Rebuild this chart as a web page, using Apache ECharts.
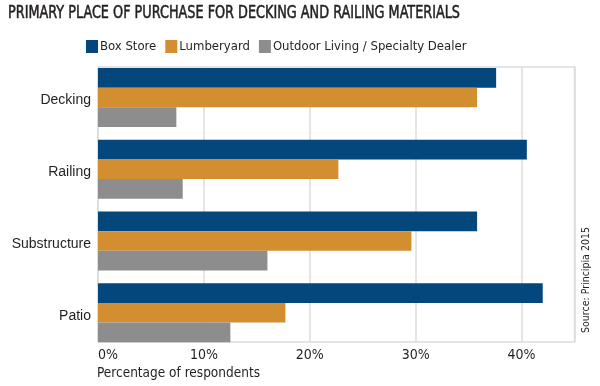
<!DOCTYPE html>
<html>
<head>
<meta charset="utf-8">
<script src="https://cdn.jsdelivr.net/npm/echarts@6/dist/echarts.min.js"></script>
<style>html,body{margin:0;padding:0;background:#fff}#c{width:600px;height:386px}</style>
</head>
<body>
<div id="c"></div>
<script>
const titleText = 'PRIMARY PLACE OF PURCHASE FOR DECKING AND RAILING MATERIALS';
const categories = ['Decking', 'Railing', 'Substructure', 'Patio'];
const seriesNames = ['Box Store', 'Lumberyard', 'Outdoor Living / Specialty Dealer'];
const boxStore = [37.6, 40.5, 35.8, 42.0];
const lumberyard = [35.8, 22.7, 29.6, 17.7];
const outdoorLiving = [7.4, 8.0, 16.0, 12.5];
const xTicks = [0, 10, 20, 30, 40];
const axisTitle = 'Percentage of respondents';
const sourceText = 'Source: Principia 2015';

const colors = ['#03477d', '#d38e2f', '#8d8d8d'];
const narrow = '"DejaVu Sans Condensed", "Liberation Sans Narrow", sans-serif';
const regular = '"Liberation Sans", Arial, sans-serif';
const textColor = '#231f20';

// fit title to the reference width by horizontal scaling
const titleFont = '17px ' + narrow;
const mctx = document.createElement('canvas').getContext('2d');
mctx.font = titleFont;
const titleScale = 452 / mctx.measureText(titleText).width;

const chart = echarts.init(document.getElementById('c'), null, {renderer: 'canvas'});
const seriesValues = [boxStore, lumberyard, outdoorLiving];

chart.setOption({
  animation: false,
  color: colors,
  legend: {
    left: 86, top: 40, padding: 0, itemWidth: 12, itemHeight: 13, itemGap: 9,
    icon: 'rect',
    data: seriesNames,
    textStyle: {fontFamily: narrow, fontSize: 13, color: textColor, padding: [1, 0, 0, -3]}
  },
  grid: [
    {left: 98, right: 25.5, top: 67, bottom: 44, show: true, borderColor: '#dcdcdc', borderWidth: 1.5, backgroundColor: 'transparent'},
    {left: 98, right: 25.5, top: 61.6, bottom: 37.4}
  ],
  xAxis: [
    {
      type: 'value', gridIndex: 0, min: 0, max: 45, interval: 10,
      axisLine: {show: false}, axisTick: {show: false},
      splitLine: {show: true, lineStyle: {color: '#dcdcdc', width: 1.5}},
      axisLabel: {
        margin: 6, fontFamily: narrow, fontSize: 14, color: textColor,
        showMaxLabel: false, alignMinLabel: 'left',
        formatter: v => xTicks.indexOf(v) >= 0 ? v + '%' : ''
      }
    },
    {type: 'value', gridIndex: 1, min: 0, max: 45, show: false}
  ],
  yAxis: [
    {type: 'category', gridIndex: 0, data: categories, inverse: true, show: false},
    {
      type: 'category', gridIndex: 1, data: categories, inverse: true,
      axisLine: {show: false}, axisTick: {show: false}, splitLine: {show: false},
      axisLabel: {
        margin: 7, color: textColor,
        formatter: v => '{c|' + v + '}',
        rich: {c: {fontFamily: regular, fontSize: 14, color: textColor, padding: [6, 0, 0, 0]}}
      }
    }
  ],
  series: seriesNames.map((n, i) => ({
    name: n, type: 'bar', xAxisIndex: 1, yAxisIndex: 1,
    barGap: 0, barCategoryGap: '17.8%',
    data: seriesValues[i],
    itemStyle: {color: colors[i]}
  })),
  graphic: [
    {type: 'text', x: 8, y: 5, scaleX: titleScale, style: {text: titleText, font: titleFont, fill: textColor, stroke: textColor, lineWidth: 0.5, textVerticalAlign: 'top'}},
    {type: 'text', left: 97, top: 366, style: {text: axisTitle, font: '13.5px ' + narrow, fill: textColor}},
    {type: 'text', x: 581, y: 280, rotation: Math.PI / 2, style: {text: sourceText, font: '10.5px ' + narrow, fill: textColor, textAlign: 'center', textVerticalAlign: 'top'}}
  ]
});
</script>
</body>
</html>
